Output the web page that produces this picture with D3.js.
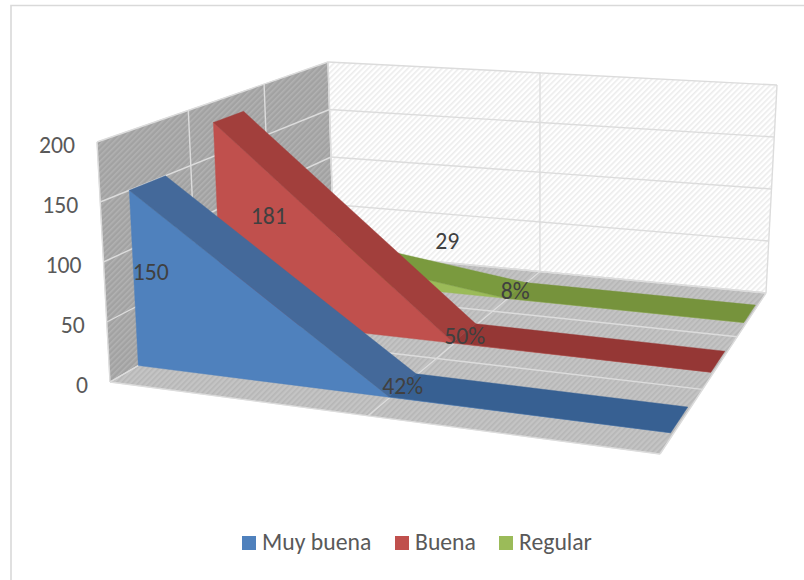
<!DOCTYPE html>
<html><head><meta charset="utf-8">
<script src="https://cdn.jsdelivr.net/npm/d3@7"></script>
<style>html,body{margin:0;padding:0;background:#fff}svg{display:block}text{font-family:Carlito,Lato,"Open Sans",sans-serif}</style>
</head><body><div id="c"></div>
<script>
const categories = ["Frecuencia","Porcentaje",""];
const seriesNames = ["Muy buena","Buena","Regular"];
const muyBuena = [150,0.42,0];
const buena = [181,0.50,0];
const regular = [29,0.08,0];
const labelsMuyBuena = ["150","42%"];
const labelsBuena = ["181","50%"];
const labelsRegular = ["29","8%"];
const yTicks = [0,50,100,150,200];
const colorsFront = ["#4f81bd","#c0504d","#9bbb59"];
const colorsSlope = ["#44699a","#a23f3c","#7a9a3e"];
const colorsFlat = ["#376092","#953735","#76933c"];

const W=804,H=580;
const svg=d3.select("#c").append("svg").attr("width",W).attr("height",H);
const defs=svg.append("defs");
function hatch(id,bg,fg){
  const p=defs.append("pattern").attr("id",id).attr("patternUnits","userSpaceOnUse").attr("width",4).attr("height",4).attr("patternTransform","rotate(45)");
  p.append("rect").attr("width",4).attr("height",4).attr("fill",bg);
  p.append("rect").attr("width",1.6).attr("height",4).attr("fill",fg);
}
hatch("hBack","#ffffff","#ececec");
hatch("hSide","#a2a2a2","#b2b2b2");
hatch("hFloor","#c4c4c4","#b6b6b6");

// Perspective box: homographies for floor and ceiling planes, built from corners
function homography(q){
  const [[x0,y0],[x1,y1],[x2,y2],[x3,y3]]=q;
  const dx1=x1-x2,dx2=x3-x2,dx3=x0-x1+x2-x3,dy1=y1-y2,dy2=y3-y2,dy3=y0-y1+y2-y3;
  const den=dx1*dy2-dx2*dy1;
  const g=(dx3*dy2-dx2*dy3)/den,h=(dx1*dy3-dx3*dy1)/den;
  const a=x1-x0+g*x1,b=x3-x0+h*x3,d=y1-y0+g*y1,e=y3-y0+h*y3;
  return (u,v)=>{const k=g*u+h*v+1;return [(a*u+b*v+x0)/k,(d*u+e*v+y0)/k];};
}
const floorPlane=homography([[110,382],[660,454],[766,293],[334,252]]);
const topPlane=homography([[97,142],[669,186],[777,85],[328,62]]);
const xScale=d3.scalePoint().domain(categories).range([0,0.995]);
const yScale=d3.scaleLinear().domain([0,200]).range([0,1]);
const zScale=d3.scaleBand().domain(seriesNames).range([0,1]).paddingInner(0.6).paddingOuter(0.3);
function proj(u,val,w){
  const f=floorPlane(u,w),t=topPlane(u,w),k=yScale(val);
  return [f[0]+(t[0]-f[0])*k,f[1]+(t[1]-f[1])*k];
}
const line=d3.line();
const poly=(pts,fill,stroke)=>svg.append("path").attr("d",line(pts)+"Z").attr("fill",fill).attr("stroke",stroke||fill).attr("stroke-width",stroke?1:0.4);

// outer frame
svg.append("path").attr("d","M11,580V5.5H804").attr("fill","none").attr("stroke","#d9d9d9").attr("stroke-width",1.6);

// walls
const yMax=200;
poly([proj(0,0,0),proj(0,yMax,0),proj(0,yMax,1),proj(0,0,1)],"url(#hSide)");
poly([proj(0,0,1),proj(0,yMax,1),proj(1,yMax,1),proj(1,0,1)],"url(#hBack)");
poly([proj(0,0,0),proj(1,0,0),proj(1,0,1),proj(0,0,1)],"url(#hFloor)");

const grid=(a,b,c)=>svg.append("path").attr("d",line([a,b])).attr("fill","none").attr("stroke",c||"#dcdcdc").attr("stroke-width",1.4);
yTicks.forEach(t=>{
  grid(proj(0,t,0),proj(0,t,1));
  grid(proj(0,t,1),proj(1,t,1));
});
[0,1,2,3].forEach(i=>{
  const w=i/3;
  grid(proj(0,0,w),proj(0,yMax,w));
  grid(proj(0,0,w),proj(1,0,w));
});
[0,0.5,1].forEach(u=>{
  grid(proj(u,0,1),proj(u,yMax,1));
  grid(proj(u,0,0),proj(u,0,1));
});

// series, back to front
const allSeries=[muyBuena,buena,regular];
for(let s=2;s>=0;s--){
  const vals=allSeries[s],name=seriesNames[s];
  const w0=zScale(name),w1=w0+zScale.bandwidth();
  const xEnd=xScale(categories[categories.length-1]);
  const front=categories.map((c,i)=>proj(xScale(c),vals[i],w0));
  const base=[proj(xEnd,0,w0),proj(0,0,w0)];
  poly(front.concat(base),colorsFront[s]);
  for(let i=0;i<categories.length-1;i++){
    const ua=xScale(categories[i]),ub=xScale(categories[i+1]);
    poly([proj(ua,vals[i],w0),proj(ub,vals[i+1],w0),proj(ub,vals[i+1],w1),proj(ua,vals[i],w1)],i==0?colorsSlope[s]:colorsFlat[s]);
  }
}

// y tick labels
yTicks.forEach(t=>{
  const p=proj(0,t,0);
  svg.append("text").attr("x",p[0]-22).attr("y",p[1]+2.5).attr("text-anchor","end").attr("dominant-baseline","central").attr("font-size",23.7).attr("fill","#595959").text(t);
});

// data labels
const dataLabels=[labelsMuyBuena,labelsBuena,labelsRegular];
const labelShift=[[[3,89],[0,1]],[[40,99],[0,2]],[[144,0],[-1,0]]];
dataLabels.forEach((arr,s)=>arr.forEach((txt,i)=>{
  const w=zScale(seriesNames[s])+zScale.bandwidth()/2;
  const p=proj(xScale(categories[i]),allSeries[s][i],w);
  svg.append("text").attr("x",p[0]+labelShift[s][i][0]).attr("y",p[1]+labelShift[s][i][1]).attr("text-anchor","middle").attr("dominant-baseline","central").attr("font-size",23.7).attr("fill","#404040").text(txt);
}));

// legend
const legendX=[242,395,499];
seriesNames.forEach((n,i)=>{
  svg.append("rect").attr("x",legendX[i]).attr("y",536).attr("width",14).attr("height",14).attr("fill",colorsFront[i]);
  svg.append("text").attr("x",legendX[i]+20).attr("y",550).attr("font-size",23.7).attr("fill","#595959").text(n);
});
</script></body></html>
